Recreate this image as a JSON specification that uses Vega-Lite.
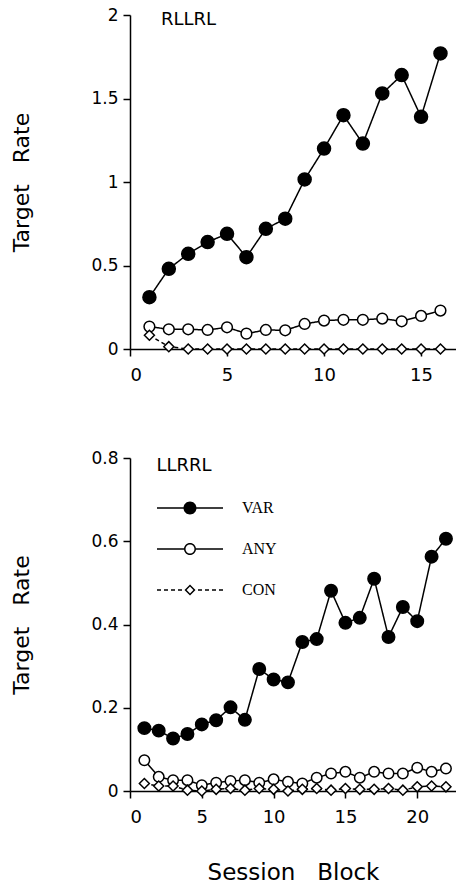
{
  "$schema": "https://vega.github.io/schema/vega-lite/v6.json",
  "background": "white",
  "padding": {"left": 10, "top": 6, "right": 0, "bottom": 0},
  "bounds": "flush",
  "spacing": 109,
  "datasets": {
    "top": [
      {"block": 1, "series": "VAR", "rate": 0.31}, {"block": 2, "series": "VAR", "rate": 0.48}, {"block": 3, "series": "VAR", "rate": 0.57}, {"block": 4, "series": "VAR", "rate": 0.64},
      {"block": 5, "series": "VAR", "rate": 0.69}, {"block": 6, "series": "VAR", "rate": 0.55}, {"block": 7, "series": "VAR", "rate": 0.72}, {"block": 8, "series": "VAR", "rate": 0.78},
      {"block": 9, "series": "VAR", "rate": 1.015}, {"block": 10, "series": "VAR", "rate": 1.2}, {"block": 11, "series": "VAR", "rate": 1.4}, {"block": 12, "series": "VAR", "rate": 1.23},
      {"block": 13, "series": "VAR", "rate": 1.53}, {"block": 14, "series": "VAR", "rate": 1.64}, {"block": 15, "series": "VAR", "rate": 1.39}, {"block": 16, "series": "VAR", "rate": 1.77},
      {"block": 1, "series": "ANY", "rate": 0.134}, {"block": 2, "series": "ANY", "rate": 0.118}, {"block": 3, "series": "ANY", "rate": 0.118}, {"block": 4, "series": "ANY", "rate": 0.114},
      {"block": 5, "series": "ANY", "rate": 0.13}, {"block": 6, "series": "ANY", "rate": 0.092}, {"block": 7, "series": "ANY", "rate": 0.114}, {"block": 8, "series": "ANY", "rate": 0.112},
      {"block": 9, "series": "ANY", "rate": 0.15}, {"block": 10, "series": "ANY", "rate": 0.17}, {"block": 11, "series": "ANY", "rate": 0.175}, {"block": 12, "series": "ANY", "rate": 0.175},
      {"block": 13, "series": "ANY", "rate": 0.182}, {"block": 14, "series": "ANY", "rate": 0.166}, {"block": 15, "series": "ANY", "rate": 0.198}, {"block": 16, "series": "ANY", "rate": 0.23},
      {"block": 1, "series": "CON", "rate": 0.082}, {"block": 2, "series": "CON", "rate": 0.014}, {"block": 3, "series": "CON", "rate": 0}, {"block": 4, "series": "CON", "rate": 0},
      {"block": 5, "series": "CON", "rate": 0}, {"block": 6, "series": "CON", "rate": 0}, {"block": 7, "series": "CON", "rate": 0}, {"block": 8, "series": "CON", "rate": 0},
      {"block": 9, "series": "CON", "rate": 0}, {"block": 10, "series": "CON", "rate": 0}, {"block": 11, "series": "CON", "rate": 0}, {"block": 12, "series": "CON", "rate": 0},
      {"block": 13, "series": "CON", "rate": 0}, {"block": 14, "series": "CON", "rate": 0}, {"block": 15, "series": "CON", "rate": 0}, {"block": 16, "series": "CON", "rate": 0}
    ],
    "bottom": [
      {"block": 1, "series": "VAR", "rate": 0.151}, {"block": 2, "series": "VAR", "rate": 0.145}, {"block": 3, "series": "VAR", "rate": 0.126}, {"block": 4, "series": "VAR", "rate": 0.137},
      {"block": 5, "series": "VAR", "rate": 0.16}, {"block": 6, "series": "VAR", "rate": 0.17}, {"block": 7, "series": "VAR", "rate": 0.201}, {"block": 8, "series": "VAR", "rate": 0.171},
      {"block": 9, "series": "VAR", "rate": 0.293}, {"block": 10, "series": "VAR", "rate": 0.268}, {"block": 11, "series": "VAR", "rate": 0.261}, {"block": 12, "series": "VAR", "rate": 0.358},
      {"block": 13, "series": "VAR", "rate": 0.365}, {"block": 14, "series": "VAR", "rate": 0.481}, {"block": 15, "series": "VAR", "rate": 0.404}, {"block": 16, "series": "VAR", "rate": 0.416},
      {"block": 17, "series": "VAR", "rate": 0.51}, {"block": 18, "series": "VAR", "rate": 0.37}, {"block": 19, "series": "VAR", "rate": 0.442}, {"block": 20, "series": "VAR", "rate": 0.408},
      {"block": 21, "series": "VAR", "rate": 0.563}, {"block": 22, "series": "VAR", "rate": 0.606},
      {"block": 1, "series": "ANY", "rate": 0.074}, {"block": 2, "series": "ANY", "rate": 0.034}, {"block": 3, "series": "ANY", "rate": 0.026}, {"block": 4, "series": "ANY", "rate": 0.026},
      {"block": 5, "series": "ANY", "rate": 0.014}, {"block": 6, "series": "ANY", "rate": 0.02}, {"block": 7, "series": "ANY", "rate": 0.024}, {"block": 8, "series": "ANY", "rate": 0.026},
      {"block": 9, "series": "ANY", "rate": 0.02}, {"block": 10, "series": "ANY", "rate": 0.028}, {"block": 11, "series": "ANY", "rate": 0.022}, {"block": 12, "series": "ANY", "rate": 0.018},
      {"block": 13, "series": "ANY", "rate": 0.032}, {"block": 14, "series": "ANY", "rate": 0.042}, {"block": 15, "series": "ANY", "rate": 0.046}, {"block": 16, "series": "ANY", "rate": 0.032},
      {"block": 17, "series": "ANY", "rate": 0.046}, {"block": 18, "series": "ANY", "rate": 0.042}, {"block": 19, "series": "ANY", "rate": 0.042}, {"block": 20, "series": "ANY", "rate": 0.056},
      {"block": 21, "series": "ANY", "rate": 0.046}, {"block": 22, "series": "ANY", "rate": 0.054},
      {"block": 1, "series": "CON", "rate": 0.018}, {"block": 2, "series": "CON", "rate": 0.012}, {"block": 3, "series": "CON", "rate": 0.012}, {"block": 4, "series": "CON", "rate": 0.002},
      {"block": 5, "series": "CON", "rate": 0}, {"block": 6, "series": "CON", "rate": 0.004}, {"block": 7, "series": "CON", "rate": 0.006}, {"block": 8, "series": "CON", "rate": 0.002},
      {"block": 9, "series": "CON", "rate": 0.006}, {"block": 10, "series": "CON", "rate": 0.004}, {"block": 11, "series": "CON", "rate": 0}, {"block": 12, "series": "CON", "rate": 0.004},
      {"block": 13, "series": "CON", "rate": 0.006}, {"block": 14, "series": "CON", "rate": 0.002}, {"block": 15, "series": "CON", "rate": 0.006}, {"block": 16, "series": "CON", "rate": 0.004},
      {"block": 17, "series": "CON", "rate": 0.004}, {"block": 18, "series": "CON", "rate": 0.006}, {"block": 19, "series": "CON", "rate": 0.002}, {"block": 20, "series": "CON", "rate": 0.01},
      {"block": 21, "series": "CON", "rate": 0.012}, {"block": 22, "series": "CON", "rate": 0.01}
    ]
  },
  "config": {
    "view": {"stroke": null},
    "axis": {
      "grid": false,
      "domainColor": "black", "domainWidth": 1.5,
      "tickColor": "black", "tickWidth": 1.5, "tickSize": 7,
      "labelFont": "DejaVu Sans", "labelFontSize": 17, "labelColor": "black",
      "titleFont": "DejaVu Sans", "titleFontSize": 22, "titleFontWeight": "normal", "titleColor": "black"
    },
    "axisX": {"labelPadding": 10, "labelFontSize": 18, "titleFontSize": 23, "titlePadding": 35},
    "axisY": {"labelPadding": 5, "titlePadding": 57}
  },
  "resolve": {"scale": {"shape": "independent", "fill": "independent"}},
  "vconcat": [
    {
      "width": 326, "height": 334,
      "layer": [
        {
          "data": {"name": "top"},
          "mark": {"type": "line", "color": "black", "strokeWidth": 1.5},
          "encoding": {
            "x": {"field": "block", "type": "quantitative", "scale": {"domain": [0, 16.8], "nice": false, "zero": false}, "axis": {"values": [0, 5, 10, 15], "title": null}},
            "y": {"field": "rate", "type": "quantitative", "scale": {"domain": [0, 2], "nice": false}, "axis": {"values": [0, 0.5, 1, 1.5, 2], "format": "~g", "title": "Target\u00a0\u00a0\u00a0Rate"}},
            "detail": {"field": "series", "type": "nominal"},
            "strokeDash": {"condition": {"test": "datum.series === 'CON'", "value": [4, 3]}, "value": [1, 0]}
          }
        },
        {
          "data": {"name": "top"},
          "mark": {"type": "point", "filled": true, "stroke": "black", "strokeWidth": 1.5, "opacity": 1},
          "encoding": {
            "x": {"field": "block", "type": "quantitative"},
            "y": {"field": "rate", "type": "quantitative"},
            "shape": {"condition": {"test": "datum.series === 'CON'", "value": "diamond"}, "value": "circle"},
            "fill": {"condition": {"test": "datum.series === 'VAR'", "value": "black"}, "value": "white"},
            "size": {"condition": [{"test": "datum.series === 'VAR'", "value": 169}, {"test": "datum.series === 'CON'", "value": 100}], "value": 115}
          }
        },
        {
          "data": {"values": [{"label": "RLLRL"}]},
          "mark": {"type": "text", "align": "left", "baseline": "alphabetic", "font": "DejaVu Sans", "fontSize": 18, "color": "black"},
          "encoding": {
            "x": {"datum": 1.6, "type": "quantitative"},
            "y": {"datum": 1.94, "type": "quantitative"},
            "text": {"field": "label", "type": "nominal"}
          }
        }
      ]
    },
    {
      "width": 326, "height": 333,
      "layer": [
        {
          "data": {"name": "bottom"},
          "mark": {"type": "line", "color": "black", "strokeWidth": 1.5},
          "encoding": {
            "x": {"field": "block", "type": "quantitative", "scale": {"domain": [0, 22.7], "nice": false, "zero": false}, "axis": {"values": [0, 5, 10, 15, 20], "title": "Session\u00a0\u00a0\u00a0Block"}},
            "y": {"field": "rate", "type": "quantitative", "scale": {"domain": [0, 0.8], "nice": false}, "axis": {"values": [0, 0.2, 0.4, 0.6, 0.8], "format": "~g", "title": "Target\u00a0\u00a0\u00a0Rate"}},
            "detail": {"field": "series", "type": "nominal"},
            "strokeDash": {"condition": {"test": "datum.series === 'CON'", "value": [4, 3]}, "value": [1, 0]}
          }
        },
        {
          "data": {"name": "bottom"},
          "mark": {"type": "point", "filled": true, "stroke": "black", "strokeWidth": 1.5, "opacity": 1},
          "encoding": {
            "x": {"field": "block", "type": "quantitative"},
            "y": {"field": "rate", "type": "quantitative"},
            "shape": {"condition": {"test": "datum.series === 'CON'", "value": "diamond"}, "value": "circle"},
            "fill": {"condition": {"test": "datum.series === 'VAR'", "value": "black"}, "value": "white"},
            "size": {"condition": [{"test": "datum.series === 'VAR'", "value": 155}, {"test": "datum.series === 'CON'", "value": 100}], "value": 110}
          }
        },
        {
          "data": {"name": "bottom"},
          "transform": [{"filter": "false"}],
          "mark": {"type": "point", "filled": false, "color": "black", "strokeWidth": 0, "opacity": 1},
          "encoding": {
            "x": {"field": "block", "type": "quantitative"},
            "y": {"field": "rate", "type": "quantitative"},
            "shape": {
              "field": "series", "type": "nominal",
              "scale": {"domain": ["VAR", "ANY", "CON"], "range": [
                "M-3.3,-0.075L-0.64,-0.075L-0.64,0.075L-3.3,0.075Z M0.64,-0.075L3.3,-0.075L3.3,0.075L0.64,0.075Z M0.65,0A0.65,0.65,0,1,1,-0.65,0A0.65,0.65,0,1,1,0.65,0Z",
                "M-3.3,-0.075L-0.6,-0.075L-0.6,0.075L-3.3,0.075Z M0.6,-0.075L3.3,-0.075L3.3,0.075L0.6,0.075Z M0.6,0A0.6,0.6,0,1,1,-0.6,0A0.6,0.6,0,1,1,0.6,0Z M0.45,0A0.45,0.45,0,1,0,-0.45,0A0.45,0.45,0,1,0,0.45,0Z",
                "M-3.3,-0.075L-2.9,-0.075L-2.9,0.075L-3.3,0.075Z M-2.6,-0.075L-2.2,-0.075L-2.2,0.075L-2.6,0.075Z M-1.9,-0.075L-1.5,-0.075L-1.5,0.075L-1.9,0.075Z M-1.2,-0.075L-0.8,-0.075L-0.8,0.075L-1.2,0.075Z M0.8,-0.075L1.2,-0.075L1.2,0.075L0.8,0.075Z M1.5,-0.075L1.9,-0.075L1.9,0.075L1.5,0.075Z M2.2,-0.075L2.6,-0.075L2.6,0.075L2.2,0.075Z M2.9,-0.075L3.3,-0.075L3.3,0.075L2.9,0.075Z M0,-0.55L0.55,0L0,0.55L-0.55,0Z M0,-0.34L-0.34,0L0,0.34L0.34,0Z"
              ]},
              "legend": {
                "orient": "none", "legendX": 50, "legendY": 40,
                "title": null, "rowPadding": 23, "labelOffset": 42, "symbolSize": 400,
                "labelFont": "Liberation Serif", "labelFontSize": 16, "labelColor": "black",
                "symbolStrokeWidth": 0
              }
            },
            "fill": {
              "field": "series", "type": "nominal",
              "scale": {"domain": ["VAR", "ANY", "CON"], "range": ["black", "black", "black"]},
              "legend": {
                "orient": "none", "legendX": 50, "legendY": 40,
                "title": null, "rowPadding": 23, "labelOffset": 42, "symbolSize": 400,
                "labelFont": "Liberation Serif", "labelFontSize": 16, "labelColor": "black",
                "symbolStrokeWidth": 0
              }
            }
          }
        },
        {
          "data": {"values": [{"label": "LLRRL"}]},
          "mark": {"type": "text", "align": "left", "baseline": "alphabetic", "font": "DejaVu Sans", "fontSize": 18, "color": "black"},
          "encoding": {
            "x": {"datum": 1.84, "type": "quantitative"},
            "y": {"datum": 0.768, "type": "quantitative"},
            "text": {"field": "label", "type": "nominal"}
          }
        }
      ]
    }
  ]
}
